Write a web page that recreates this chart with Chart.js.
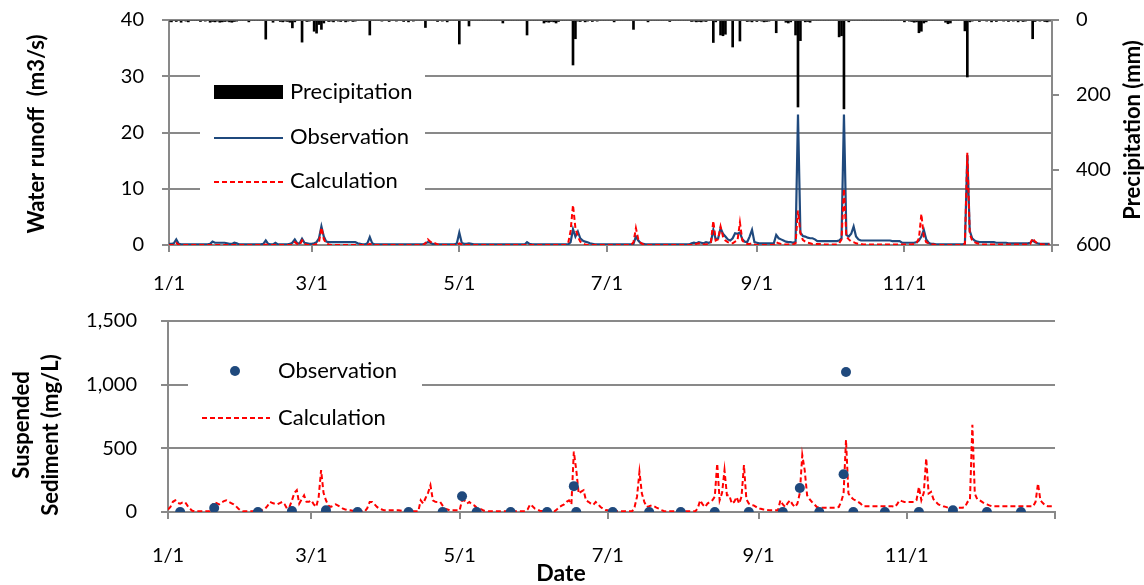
<!DOCTYPE html>
<html>
<head>
<meta charset="utf-8">
<script src="https://cdn.jsdelivr.net/npm/chart.js@4.4.1/dist/chart.umd.min.js"></script>
<style>
    body { margin: 0; background: #fff; }
    #wrap { position: relative; width: 1144px; height: 585px; }
    canvas { position: absolute; left: 0; }
</style>
</head>
<body>
<div id="wrap">
    <canvas id="runoffChart" width="1144" height="290" style="top:0"></canvas>
    <canvas id="sedimentChart" width="1144" height="295" style="top:290px"></canvas>
</div>
<script>
// daily values, day 0 = 1/1
const precipitation = [
    3,5,0,4,0,6,0,3,5,0,
    0,0,0,4,0,3,0,6,4,5,
    3,6,5,4,3,5,6,4,3,0,
    0,0,0,5,0,0,0,0,0,0,
    51,0,0,6,0,0,4,5,3,4,
    6,21,5,0,0,59,0,4,3,0,
    30,35,12,25,8,0,4,3,5,0,
    3,4,0,5,3,0,4,3,0,0,
    0,0,0,40,0,0,0,0,3,0,
    0,4,0,0,3,0,0,4,0,5,
    0,3,0,0,0,0,20,0,0,0,
    0,4,0,3,0,5,0,0,0,0,
    64,0,0,0,16,0,0,0,0,0,
    0,0,0,0,0,0,0,0,8,0,
    0,0,0,0,0,0,0,0,40,0,
    0,0,0,0,0,8,5,6,4,5,
    8,4,0,0,0,0,0,120,50,3,
    4,0,5,3,0,4,0,3,0,0,
    0,0,0,0,5,0,0,0,0,0,
    0,0,25,0,0,0,0,0,5,0,
    0,0,0,0,0,0,0,4,0,0,
    0,0,0,0,0,0,4,3,5,4,
    5,3,4,0,0,60,5,0,40,42,
    38,0,0,72,0,0,56,0,0,4,
    3,5,0,4,0,3,5,4,3,0,
    0,34,0,0,0,6,8,5,0,40,
    232,55,0,5,4,6,0,0,0,0,
    0,0,0,0,0,0,0,45,42,237,
    0,5,0,0,0,0,0,0,0,0,
    0,0,0,0,0,0,0,0,0,0,
    0,0,0,0,5,0,3,4,6,5,
    34,30,8,5,0,0,0,0,0,0,
    0,6,10,8,0,0,0,0,0,29,
    152,5,3,0,0,4,0,0,3,0,
    5,0,4,0,0,3,0,4,0,3,
    0,5,0,4,3,0,0,50,4,0,
    3,0,4,5,3
];

const obsRunoff = [
    0.2,0.2,0.3,1.0,0.2,0.1,0.1,0.1,0.1,0.1,
    0.1,0.1,0.1,0.1,0.1,0.1,0.1,0.2,0.6,0.4,
    0.4,0.4,0.4,0.4,0.3,0.2,0.2,0.4,0.3,0.1,
    0.1,0.1,0.1,0.1,0.1,0.1,0.1,0.1,0.1,0.2,
    0.8,0.2,0.1,0.1,0.4,0.1,0.1,0.1,0.1,0.1,
    0.2,0.4,1.0,0.3,0.3,1.1,0.4,0.3,0.2,0.2,
    0.3,0.5,1.2,3.3,1.5,0.6,0.5,0.5,0.5,0.5,
    0.5,0.5,0.5,0.5,0.5,0.5,0.5,0.5,0.3,0.2,
    0.1,0.1,0.3,1.4,0.3,0.1,0.1,0.1,0.1,0.1,
    0.1,0.1,0.1,0.1,0.1,0.1,0.1,0.1,0.1,0.1,
    0.1,0.1,0.1,0.1,0.1,0.1,0.3,0.5,0.4,0.2,
    0.1,0.1,0.1,0.1,0.1,0.1,0.1,0.1,0.1,0.3,
    2.2,0.4,0.2,0.2,0.3,0.2,0.1,0.1,0.1,0.1,
    0.1,0.1,0.1,0.1,0.1,0.1,0.1,0.1,0.1,0.1,
    0.1,0.1,0.1,0.1,0.1,0.1,0.1,0.1,0.5,0.2,
    0.1,0.1,0.1,0.1,0.1,0.1,0.1,0.1,0.1,0.1,
    0.1,0.1,0.1,0.1,0.1,0.1,0.5,2.8,1.5,2.4,
    1.2,0.8,0.6,0.5,0.3,0.2,0.1,0.1,0.1,0.1,
    0.1,0.1,0.1,0.1,0.1,0.1,0.1,0.1,0.1,0.1,
    0.1,0.1,0.2,1.5,0.8,0.3,0.2,0.1,0.1,0.1,
    0.1,0.1,0.1,0.1,0.1,0.1,0.1,0.1,0.1,0.1,
    0.1,0.1,0.1,0.1,0.1,0.1,0.3,0.4,0.3,0.5,
    0.4,0.3,0.5,0.4,0.5,2.7,1.0,1.2,3.0,2.0,
    1.5,1.0,0.8,1.2,2.1,2.0,2.2,1.0,0.6,0.5,
    1.5,2.7,0.5,0.4,0.3,0.3,0.3,0.3,0.3,0.3,
    0.3,1.8,1.2,1.0,0.8,0.6,0.5,0.5,0.4,0.6,
    23.2,2.2,1.6,1.5,1.3,1.2,1.2,1.0,0.7,0.7,
    0.7,0.7,0.7,0.7,0.7,0.7,0.7,0.8,1.2,23.2,
    1.8,1.5,2.0,3.3,1.5,1.0,0.8,0.8,0.8,0.8,
    0.8,0.8,0.8,0.8,0.8,0.8,0.8,0.8,0.8,0.7,
    0.7,0.7,0.7,0.4,0.4,0.4,0.4,0.4,0.4,0.5,
    0.8,1.5,2.7,1.0,0.4,0.2,0.2,0.1,0.1,0.1,
    0.1,0.1,0.1,0.1,0.1,0.1,0.1,0.1,0.1,0.2,
    16.0,2.5,1.2,0.8,0.6,0.5,0.5,0.5,0.5,0.5,
    0.5,0.5,0.4,0.4,0.4,0.4,0.4,0.3,0.3,0.3,
    0.3,0.3,0.3,0.3,0.3,0.3,0.4,0.8,0.5,0.3,
    0.2,0.2,0.2,0.2,0.2
];

const calcRunoff = [
    0,0,0,0.4,0,0,0,0,0,0,
    0,0,0,0,0,0,0,0,0,0,
    0,0,0,0,0,0,0,0,0,0,
    0,0,0,0,0,0,0,0,0,0,
    0.1,0,0,0,0,0,0,0,0,0,
    0,0,0.5,0.2,0,0.8,0.2,0,0,0,
    0,0.2,0.5,3.1,1.0,0.3,0.1,0,0,0,
    0,0,0,0,0,0,0,0,0,0,
    0,0,0,0.2,0,0,0,0,0,0,
    0,0,0,0,0,0,0,0,0,0,
    0,0,0,0,0,0,0.3,1.0,0.6,0.3,
    0.3,0.1,0,0,0,0,0,0,0,0,
    0.3,0.1,0,0,0,0,0,0,0,0,
    0,0,0,0,0,0,0,0,0,0,
    0,0,0,0,0,0,0,0,0,0,
    0,0,0,0,0,0,0,0,0,0,
    0,0,0,0,0,0.3,2.5,7.1,3.0,1.5,
    0.6,0.3,0.1,0,0,0,0,0,0,0,
    0,0,0,0,0,0,0,0,0,0,
    0,0,0.5,3.0,1.0,0.4,0.1,0,0,0,
    0,0,0,0,0,0,0,0,0,0,
    0,0,0,0,0,0,0,0,0.2,0.3,
    0.2,0.1,0.1,0.2,0.5,4.3,0.8,1.0,3.3,1.5,
    0.8,0.5,0.3,0.3,0.6,0.8,4.0,0.8,0.4,0.2,
    0.2,0.3,0.1,0,0,0,0,0,0,0,
    0,0.5,0.3,0.2,0.1,0.1,0.1,0.1,0.1,0.3,
    6.1,2.1,0.9,0.6,0.4,0.3,0.2,0.2,0.2,0.2,
    0.2,0.1,0.1,0.1,0.1,0.1,0.1,0.3,1.0,10.0,
    1.5,1.0,0.6,0.5,0.3,0.2,0.2,0.1,0.1,0.1,
    0.1,0.1,0.1,0.1,0.1,0.1,0.1,0.1,0.1,0.1,
    0.1,0.1,0.1,0.1,0.1,0.1,0.1,0.1,0.2,0.3,
    1.2,5.5,1.5,0.5,0.3,0.1,0.1,0,0,0,
    0,0,0,0,0,0,0,0,0,0.2,
    16.4,2.0,0.8,0.5,0.3,0.2,0.1,0.1,0.1,0.1,
    0.1,0.1,0.1,0.1,0.1,0.1,0.1,0.1,0.1,0.1,
    0.1,0.1,0.1,0.1,0.1,0.1,0.2,1.2,0.6,0.3,
    0.2,0.1,0.1,0.1,0.1
];

const calcSediment = [
    20,40,80,92,70,66,75,79,50,26,
    10,5,5,5,5,5,5,5,40,79,
    70,60,75,85,92,80,70,60,45,26,
    10,5,5,5,5,5,5,5,5,20,
    26,50,79,70,65,60,70,79,60,26,
    40,90,150,171,66,100,131,80,80,92,
    60,40,118,329,150,92,50,40,50,60,
    50,40,26,20,15,13,10,5,5,5,
    5,5,30,79,79,60,40,26,20,13,
    13,13,13,13,13,13,10,5,5,5,
    5,5,5,5,92,66,110,150,210,92,
    80,79,79,50,26,20,13,13,13,13,
    13,92,90,66,79,60,52,35,26,20,
    10,8,5,5,5,5,5,5,5,5,
    5,5,5,5,5,5,5,5,20,60,
    45,26,20,10,8,5,5,5,5,5,
    20,39,50,60,80,92,60,474,329,145,
    160,171,92,80,66,55,79,60,39,26,
    15,13,8,5,5,5,5,5,5,5,
    5,5,39,120,316,145,80,40,45,52,
    45,35,26,15,8,5,5,5,5,5,
    5,5,5,5,5,5,5,5,30,92,
    60,39,66,79,92,120,381,92,150,329,
    131,131,66,80,118,66,120,368,100,66,
    55,52,40,26,26,20,18,15,13,13,
    13,13,92,60,39,70,92,60,39,66,
    150,447,329,131,100,79,60,39,34,34,
    34,34,34,34,34,34,39,80,145,566,
    145,118,100,90,79,66,45,45,45,45,
    45,45,45,45,45,45,45,45,45,39,
    60,92,85,79,79,79,79,79,92,197,
    92,150,421,145,158,100,79,60,52,45,
    40,34,34,34,34,34,34,34,40,79,
    92,684,145,100,92,79,66,60,52,45,
    45,45,45,45,45,45,45,45,45,45,
    45,45,45,45,45,45,45,80,224,92,
    70,52,45,45,45
];

// sampled sediment concentration
const obsSedimentDays = [5,19,37,51,65,78,99,113,121,127,141,156,167,168,183,198,211,225,239,253,260,268,278,279,282,295,309,323,337,351];
const obsSediment     = [0,32,0,8,13,0,0,0,124,0,0,0,203,0,0,0,0,0,0,0,189,0,297,1100,0,0,0,13,0,0];

const tickDays = [0, 59, 120, 181, 243, 304, 365];
const tickLabels = ["1/1", "3/1", "5/1", "7/1", "9/1", "11/1", ""];

const AXIS_GRAY = "#898989";
const BLUE = "#1F497D";
const RED = "#FF0000";
const FONT = "Lato, 'Open Sans', sans-serif";

Chart.defaults.font.family = FONT;
Chart.defaults.color = "#000";

function toPoints(values) {
    return values.map((v, i) => ({ x: i, y: v }));
}

// keep the plot area where the layout padding puts it
function fixWidth(w) {
    return (scale) => {
        scale.width = w;
        scale.paddingTop = 0;
        scale.paddingBottom = 0;
    };
}

function dateAxis(fixedHeight, labelPadding) {
    return {
        type: "linear",
        min: 0,
        max: 365,
        offset: false,
        afterBuildTicks: (scale) => {
            scale.ticks = tickDays.map(d => ({ value: d }));
        },
        afterFit: (scale) => {
            scale.height = fixedHeight;
            scale.paddingLeft = 0;
            scale.paddingRight = 0;
        },
        ticks: {
            autoSkip: false,
            maxRotation: 0,
            padding: labelPadding,
            font: { size: 20 },
            callback: (value) => tickLabels[tickDays.indexOf(value)]
        },
        grid: { offset: false, drawOnChartArea: false, drawTicks: true, tickLength: 7, color: AXIS_GRAY, lineWidth: 2 },
        border: { display: true, color: AXIS_GRAY, width: 2 }
    };
}

function rotatedText(ctx, text, x, y, font) {
    ctx.save();
    ctx.translate(x, y);
    ctx.rotate(-Math.PI / 2);
    ctx.font = font;
    ctx.textAlign = "center";
    ctx.textBaseline = "middle";
    ctx.fillStyle = "#000";
    ctx.fillText(text, 0, 0);
    ctx.restore();
}

function dashLine(ctx, x1, x2, y, color, dash) {
    ctx.save();
    ctx.strokeStyle = color;
    ctx.lineWidth = 2;
    ctx.setLineDash(dash || []);
    ctx.beginPath();
    ctx.moveTo(x1, y);
    ctx.lineTo(x2, y);
    ctx.stroke();
    ctx.restore();
}

// ============================
// TOP: RUNOFF + PRECIPITATION
// ============================
const runoffDecor = {
    id: "runoffDecor",
    afterDraw(chart) {
        const ctx = chart.ctx;
        ctx.save();
        ctx.fillStyle = "#fff";
        ctx.fillRect(200, 68, 225, 130);

        ctx.fillStyle = "#000";
        ctx.fillRect(214, 85, 69, 14);
        dashLine(ctx, 214, 283, 138, BLUE);
        dashLine(ctx, 214, 283, 182, RED, [5, 3]);

        ctx.font = "22px " + FONT;
        ctx.textBaseline = "middle";
        ctx.fillText("Precipitation", 290, 92);
        ctx.fillText("Observation", 290, 137);
        ctx.fillText("Calculation", 290, 181);
        ctx.restore();

        rotatedText(ctx, "Water runoff  (m3/s)", 37, 134, "bold 22px " + FONT);
        rotatedText(ctx, "Precipitation (mm)", 1133, 130, "bold 22px " + FONT);
    }
};

new Chart(document.getElementById("runoffChart"), {
    type: "bar",
    data: {
        datasets: [
            {
                type: "line",
                label: "Calculation",
                data: toPoints(calcRunoff),
                borderColor: RED,
                borderWidth: 2,
                borderDash: [5, 3],
                pointRadius: 0,
                yAxisID: "y",
                order: 1
            },
            {
                type: "line",
                label: "Observation",
                data: toPoints(obsRunoff),
                borderColor: BLUE,
                borderWidth: 2.2,
                pointRadius: 0,
                yAxisID: "y",
                order: 2
            },
            {
                type: "bar",
                label: "Precipitation",
                data: toPoints(precipitation),
                backgroundColor: "#000",
                barThickness: 2,
                yAxisID: "yP",
                order: 3
            }
        ]
    },
    options: {
        responsive: false,
        devicePixelRatio: 1,
        animation: false,
        layout: { padding: { top: 20, left: 0, right: 0, bottom: 0 } },
        plugins: { legend: { display: false }, tooltip: { enabled: false } },
        scales: {
            x: dateAxis(45, 20),
            y: {
                position: "left",
                min: 0,
                max: 40,
                afterFit: fixWidth(169),
                ticks: { stepSize: 10, padding: 18, font: { size: 20 } },
                grid: { color: AXIS_GRAY, lineWidth: 2, tickLength: 7 },
                border: { display: true, color: AXIS_GRAY, width: 2 }
            },
            yP: {
                position: "right",
                reverse: true,
                min: 0,
                max: 600,
                afterFit: fixWidth(92),
                ticks: { stepSize: 200, padding: 17, font: { size: 20 } },
                grid: { drawOnChartArea: false, color: AXIS_GRAY, lineWidth: 2, tickLength: 7 },
                border: { display: true, color: AXIS_GRAY, width: 2 }
            }
        }
    },
    plugins: [runoffDecor]
});

// ============================
// BOTTOM: SUSPENDED SEDIMENT
// ============================
const sedimentDecor = {
    id: "sedimentDecor",
    afterDraw(chart) {
        const ctx = chart.ctx;
        ctx.save();
        ctx.fillStyle = "#fff";
        ctx.fillRect(188, 60, 234, 86);

        ctx.fillStyle = BLUE;
        ctx.beginPath();
        ctx.arc(235, 81, 5, 0, Math.PI * 2);
        ctx.fill();
        dashLine(ctx, 202, 270, 128, RED, [5, 3]);

        ctx.fillStyle = "#000";
        ctx.font = "22px " + FONT;
        ctx.textBaseline = "middle";
        ctx.fillText("Observation", 278, 81);
        ctx.fillText("Calculation", 278, 128);

        ctx.font = "bold 23px " + FONT;
        ctx.textAlign = "center";
        ctx.fillText("Date", 561, 284);
        ctx.restore();

        rotatedText(ctx, "Suspended", 22, 135, "bold 22px " + FONT);
        rotatedText(ctx, "Sediment (mg/L)", 51, 145, "bold 22px " + FONT);
    }
};

new Chart(document.getElementById("sedimentChart"), {
    type: "line",
    data: {
        datasets: [
            {
                label: "Observation",
                data: obsSedimentDays.map((d, i) => ({ x: d, y: obsSediment[i] })),
                showLine: false,
                pointRadius: 5,
                pointBackgroundColor: BLUE,
                pointBorderColor: BLUE,
                pointBorderWidth: 0,
                order: 1
            },
            {
                label: "Calculation",
                data: toPoints(calcSediment),
                borderColor: RED,
                borderWidth: 2,
                borderDash: [5, 3],
                pointRadius: 0,
                order: 2
            }
        ]
    },
    options: {
        responsive: false,
        devicePixelRatio: 1,
        animation: false,
        layout: { padding: { top: 31, left: 0, right: 89, bottom: 0 } },
        plugins: { legend: { display: false }, tooltip: { enabled: false } },
        scales: {
            x: dateAxis(73, 25),
            y: {
                min: 0,
                max: 1500,
                afterFit: fixWidth(168),
                ticks: {
                    stepSize: 500,
                    padding: 24,
                    font: { size: 20 },
                    callback: (v) => v.toLocaleString("en-US")
                },
                grid: { color: AXIS_GRAY, lineWidth: 2, tickLength: 7 },
                border: { display: true, color: AXIS_GRAY, width: 2 }
            }
        }
    },
    plugins: [sedimentDecor]
});
</script>
</body>
</html>
